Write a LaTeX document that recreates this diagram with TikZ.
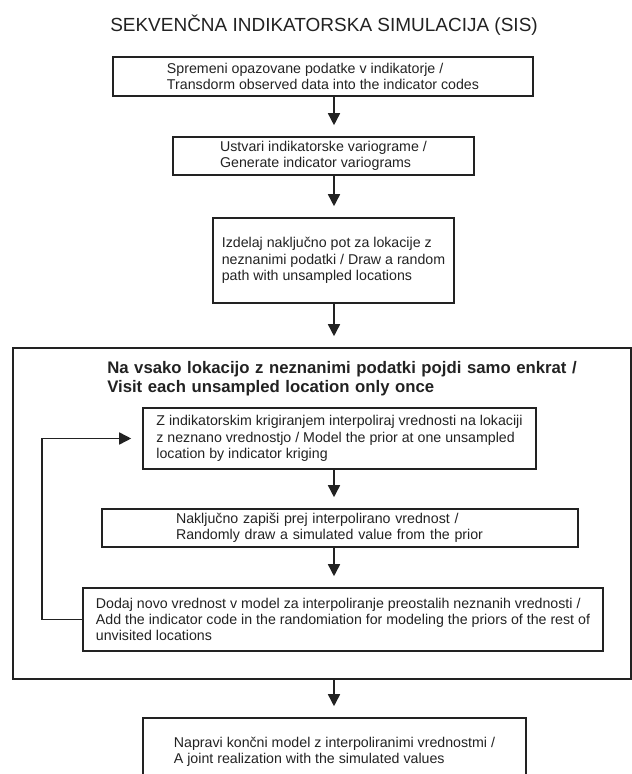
\documentclass[tikz,border=0pt]{standalone}
\usepackage{fontspec}
\setmainfont{Liberation Sans}
\usetikzlibrary{arrows.meta}
\definecolor{ink}{HTML}{222222}

\begin{document}
\begin{tikzpicture}[
        stepbox/.style={draw=ink, line width=1.4pt, align=left, text=ink, inner sep=0pt,
                font=\fontsize{10.1}{11.6}\selectfont},
        flow/.style={draw=ink, line width=1.1pt, -{Triangle[length=0.3cm,width=0.3cm]}, shorten >=0.27cm}]
        \path[use as bounding box, clip] (0,0) rectangle (15.8,-19.35);
        \coordinate (axis) at (8.35,-0.5);
        \node[text=ink, font=\fontsize{13.5}{16}\selectfont, anchor=base] (naslov) at (8.1,-0.8) {SEKVENČNA INDIKATORSKA SIMULACIJA (SIS)};
        \node[stepbox, minimum width=10.5cm, minimum height=0.975cm] (spremeni) at (8.075,-1.9125)
                {Spremeni opazovane podatke v indikatorje /\\Transdorm observed data into the indicator codes};
        \node[stepbox, minimum width=7.525cm, minimum height=0.95cm] (variogram) at (8.0875,-3.9)
                {Ustvari indikatorske variograme /\\Generate indicator variograms};
        \node[stepbox, minimum width=6.025cm, minimum height=2.125cm] (pot) at (8.3375,-6.5125)
                {Izdelaj naključno pot za lokacije z\\neznanimi podatki / Draw a random\\path with unsampled locations};
        \node[draw=ink, line width=1.4pt, minimum width=15.45cm, minimum height=8.275cm, inner sep=0pt] (obisk) at (8.05,-12.8375) {};
        \node[text=ink, font=\bfseries\fontsize{11.9}{13.6}\selectfont, text width=12.5cm, align=left, inner sep=0pt, anchor=base west] (obisknaslov) at (2.675,-9.325)
                {Na vsako lokacijo z neznanimi podatki pojdi samo enkrat /\\Visit each unsampled location only once};
        \node[stepbox, minimum width=9.825cm, minimum height=1.525cm] (kriging) at (8.4875,-10.9625)
                {Z indikatorskim krigiranjem interpoliraj vrednosti na lokaciji\\z neznano vrednostjo / Model the prior at one unsampled\\location by indicator kriging};
        \node[stepbox, text width=8.2cm, minimum width=11.9cm, minimum height=0.95cm] (zapis) at (8.5,-13.2)
                {Naključno zapiši prej interpolirano vrednost /\\Randomly draw a simulated value from the prior};
        \node[stepbox, minimum width=13cm, minimum height=1.575cm] (dodaj) at (8.575,-15.4875)
                {Dodaj novo vrednost v model za interpoliranje preostalih neznanih vrednosti /\\Add the indicator code in the randomiation for modeling the priors of the rest of\\unvisited locations};
        \node[stepbox, minimum width=9.575cm, minimum height=1.7cm] (koncni) at (8.3625,-18.8)
                {Napravi končni model z interpoliranimi vrednostmi /\\A joint realization with the simulated values};
        \draw[flow] (spremeni.south -| axis) -- (variogram.north -| axis);
        \draw[flow] (variogram.south -| axis) -- (pot.north -| axis);
        \draw[flow] (pot.south -| axis) -- (obisk.north -| axis);
        \draw[flow] (kriging.south -| axis) -- (zapis.north -| axis);
        \draw[flow] (zapis.south -| axis) -- (dodaj.north -| axis);
        \draw[flow] (obisk.south -| axis) -- (koncni.north -| axis);
        \draw[flow] (dodaj.west) -- ++(-1,0) |- (kriging.west);
\end{tikzpicture}
\end{document}
